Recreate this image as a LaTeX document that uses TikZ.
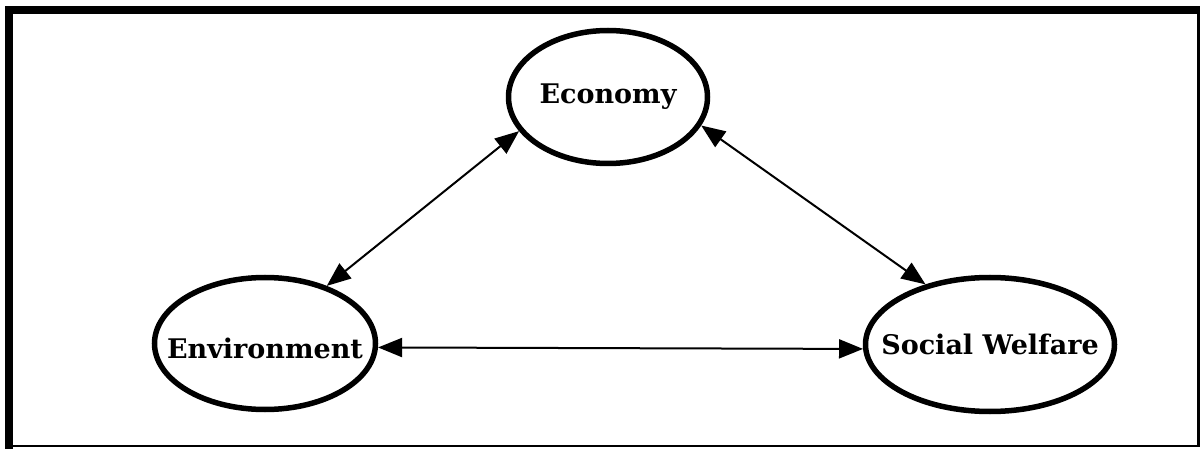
\documentclass[tikz,border=0pt]{standalone}
\usepackage{fontspec}
\setmainfont{DejaVu Serif}
\usetikzlibrary{shapes.geometric,arrows.meta}
\begin{document}
\begin{tikzpicture}[x=1pt,y=-1pt,
  bubble/.style={draw=black, line width=5.5pt, ellipse, inner sep=0pt},
  bubbletext/.style={font=\fontsize{27}{32}\selectfont\bfseries, inner sep=0pt},
  link/.style={line width=2pt, {Triangle[length=24pt,width=19pt]}-{Triangle[length=24pt,width=19pt]}},
  frameline/.style={fill=black}]
\useasboundingbox (0,0) rectangle (1203,449);
% frame
\fill[frameline] (5,6) rectangle (13,449);
\fill[frameline] (5,6) rectangle (1200,14);
\fill[frameline] (1197,6) rectangle (1200,446);
\fill[frameline] (13,445) rectangle (1200,447);
% nodes
\node[bubble, minimum width=199pt, minimum height=133pt,
  label={[bubbletext]center:Economy}] (econ) at (608,97) {};
\node[bubble, minimum width=221pt, minimum height=132pt,
  label={[bubbletext,yshift=-5pt]center:Environment}] (env) at (265,343.5) {};
\node[bubble, minimum width=249pt, minimum height=134pt,
  label={[bubbletext]center:Social Welfare}] (soc) at (990,344.5) {};
% connectors
\draw[link] (econ.201.7) -- (env.43.3);
\draw[link] (econ.343.4) -- (soc.137.5);
\draw[link] (env.-2.8) -- (soc.182);
\end{tikzpicture}
\end{document}
